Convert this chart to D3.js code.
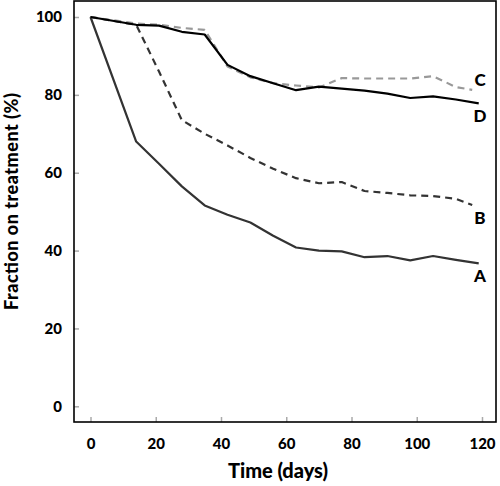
<!DOCTYPE html>
<html><head><meta charset="utf-8">
<script src="https://cdn.jsdelivr.net/npm/d3@7"></script>
<style>body{margin:0;background:#fff}svg{display:block}text{font-family:Lato,"DejaVu Sans",sans-serif;font-weight:900}</style>
</head><body>
<script>
const xTicks=[0,20,40,60,80,100,120];
const yTicks=[0,20,40,60,80,100];
const daysA=[0,14,21,28,35,42,49,56,63,70,77,84,91,98,105,112,119];
const valuesA=[100,68,62.3,56.5,51.6,49.2,47.2,43.8,40.8,40,39.8,38.3,38.6,37.5,38.6,37.6,36.7];
const daysB=[0,14,21,28,35,42,49,56,63,70,77,84,91,98,105,112,117];
const valuesB=[100,98,86,73.5,70,67,63.8,61,58.6,57.3,57.6,55.3,54.8,54.2,54,53.3,51.7];
const daysC=[0,14,21,28,35,42,49,56,63,70,77,84,91,98,105,112,117];
const valuesC=[100,98.3,98,97.2,96.7,87.3,84.5,83,82.4,81.9,84.3,84.2,84.2,84.2,84.8,82,81.3];
const daysD=[0,14,21,28,35,42,49,56,63,70,77,84,91,98,105,112,119];
const valuesD=[100,98,97.8,96.2,95.5,87.7,84.8,83,81.2,82.1,81.6,81.1,80.3,79.2,79.6,78.8,77.8];
const seriesNames=["A","B","C","D"];

const W=500,H=486;
const svg=d3.select("body").append("svg").attr("width",W).attr("height",H);
const box={l:74,r:496,t:1,b:422};
const x=d3.scaleLinear().domain([0,120]).range([90.5,482]);
const y=d3.scaleLinear().domain([0,100]).range([406.3,17]);

const xa=svg.append("g").attr("transform",`translate(0,${box.b})`)
  .call(d3.axisBottom(x).tickValues(xTicks).tickSizeInner(-5).tickSizeOuter(0).tickPadding(16));
const ya=svg.append("g").attr("transform",`translate(${box.l},0)`)
  .call(d3.axisLeft(y).tickValues(yTicks).tickSizeInner(-5).tickSizeOuter(0).tickPadding(12));
[xa,ya].forEach(a=>{a.select(".domain").remove();a.selectAll(".tick line").attr("stroke","#aaa").attr("stroke-width",1.5);
  a.selectAll(".tick text").attr("fill","#000").style("font-size","15px").style("font-weight","900").style("font-family","Lato,'DejaVu Sans',sans-serif");});

svg.append("rect").attr("x",box.l).attr("y",box.t).attr("width",box.r-box.l).attr("height",box.b-box.t)
  .attr("fill","none").attr("stroke","#000").attr("stroke-width",1.6);

const line=d3.line().x(d=>x(d[0])).y(d=>y(d[1]));
const zip=(a,b)=>a.map((v,i)=>[v,b[i]]);
const data={A:zip(daysA,valuesA),B:zip(daysB,valuesB),C:zip(daysC,valuesC),D:zip(daysD,valuesD)};
const style={A:{c:"#333",d:null},B:{c:"#333",d:"7,5"},C:{c:"#999",d:"7,5"},D:{c:"#000",d:null}};
["A","B","C","D"].forEach(k=>{
  svg.append("path").datum(data[k]).attr("d",line).attr("fill","none")
    .attr("stroke",style[k].c).attr("stroke-width",2.2).attr("stroke-dasharray",style[k].d)
    .attr("stroke-linejoin","round");
});
const labelPos={A:[480,282],B:[480,224],C:[480,86],D:[480,122]};
seriesNames.forEach(k=>{
  svg.append("text").attr("x",labelPos[k][0]).attr("y",labelPos[k][1]).attr("text-anchor","middle")
    .style("font-size","17px").text(k);
});

svg.append("text").attr("x",278).attr("y",478).attr("text-anchor","middle").style("font-size","20px")
  .attr("textLength",100).text("Time (days)");
svg.append("text").attr("transform","translate(18,201.5) rotate(-90)").attr("text-anchor","middle").style("font-size","18px")
  .attr("textLength",217).text("Fraction on treatment (%)");
</script>
</body></html>
